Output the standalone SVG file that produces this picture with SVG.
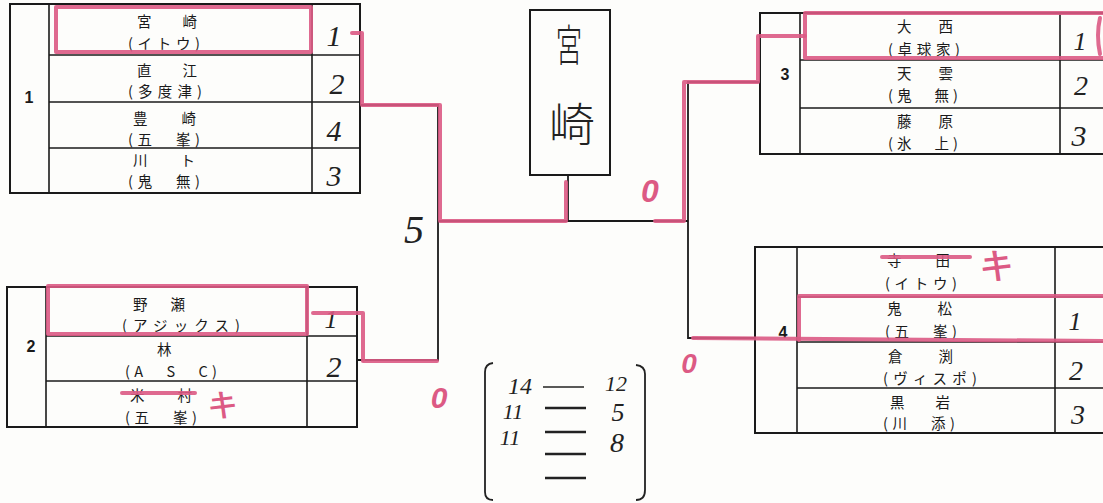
<svg xmlns="http://www.w3.org/2000/svg" width="1103" height="503" viewBox="0 0 1103 503">
<style>
.box{fill:none;stroke:#1a1a1a;stroke-width:2}
.ln{stroke:#1a1a1a;stroke-width:1.6;fill:none}
.t{font-family:"Noto Sans CJK JP","Liberation Sans",sans-serif;font-size:14.5px;fill:#1a1a1a}
.lb{font-family:"Liberation Sans",sans-serif;font-size:16px;font-weight:bold;fill:#1a1a1a}
.hw{font-family:"Liberation Serif",serif;font-style:italic;fill:#222}
.red{fill:none;stroke:#dc5a84;stroke-width:4;stroke-linecap:round;stroke-linejoin:round;opacity:0.9}
.redt{font-family:"Liberation Sans",sans-serif;font-weight:bold;fill:#dc5a84}
.con{fill:none;stroke:#1a1a1a;stroke-width:1.8}
</style>
<rect width="1103" height="503" fill="#fdfdfb"/>

<g id="connectors">
<polyline class="con" points="360,105 438,105 438,360 357,360"/>
<line class="con" x1="438" y1="221" x2="688" y2="221"/>
<line class="con" x1="568" y1="175" x2="568" y2="221"/>
<polyline class="con" points="760,82 688,82 688,338 755,338"/>
</g>

<g id="block1">
<rect class="box" x="10" y="4" width="350" height="189"/>
<line class="ln" x1="49" y1="4" x2="49" y2="193"/>
<line class="ln" x1="312" y1="4" x2="312" y2="193"/>
<line class="ln" x1="49" y1="55" x2="360" y2="55"/>
<line class="ln" x1="49" y1="102" x2="360" y2="102"/>
<line class="ln" x1="49" y1="148" x2="360" y2="148"/>
<text class="lb" x="29" y="103" text-anchor="middle">1</text>
<text class="t" x="137" y="27" textLength="60" lengthAdjust="spacing">宮　崎</text>
<text class="t" x="128" y="49" textLength="72" lengthAdjust="spacing">(イトウ)</text>
<text class="t" x="137" y="76" textLength="60" lengthAdjust="spacing">直　江</text>
<text class="t" x="128" y="97" textLength="74" lengthAdjust="spacing">(多度津)</text>
<text class="t" x="133" y="124" textLength="63" lengthAdjust="spacing">豊　崎</text>
<text class="t" x="128" y="145" textLength="72" lengthAdjust="spacing">(五　峯)</text>
<text class="t" x="133" y="166" textLength="62" lengthAdjust="spacing">川　ト</text>
<text class="t" x="128" y="187" textLength="72" lengthAdjust="spacing">(鬼　無)</text>
<text class="hw" x="334" y="46" font-size="30" text-anchor="middle">1</text>
<text class="hw" x="337" y="94" font-size="30" text-anchor="middle">2</text>
<text class="hw" x="334" y="141" font-size="30" text-anchor="middle">4</text>
<text class="hw" x="334" y="186" font-size="30" text-anchor="middle">3</text>
</g>

<g id="block2">
<rect class="box" x="7" y="287" width="350" height="140"/>
<line class="ln" x1="46" y1="287" x2="46" y2="427"/>
<line class="ln" x1="307" y1="287" x2="307" y2="427"/>
<line class="ln" x1="46" y1="336" x2="357" y2="336"/>
<line class="ln" x1="46" y1="381" x2="357" y2="381"/>
<text class="lb" x="31" y="352" text-anchor="middle">2</text>
<text class="t" x="133" y="310" textLength="52" lengthAdjust="spacing">野　瀬</text>
<text class="t" x="122" y="331" textLength="118" lengthAdjust="spacing">(アジックス)</text>
<text class="t" x="157" y="355">林</text>
<text class="t" x="125" y="377" textLength="92" lengthAdjust="spacing">(A　S　C)</text>
<text class="t" x="130" y="401" textLength="62" lengthAdjust="spacing">米　村</text>
<text class="t" x="125" y="423" textLength="72" lengthAdjust="spacing">(五　峯)</text>
<text class="hw" x="331" y="328" font-size="26" text-anchor="middle">1</text>
<text class="hw" x="334" y="377" font-size="30" text-anchor="middle">2</text>
</g>

<g id="final">
<rect class="box" x="530" y="10" width="80" height="165"/>
<text x="569" y="62" font-family="Noto Sans CJK JP,sans-serif" font-weight="300" font-size="44" fill="#222" text-anchor="middle" transform="translate(569 0) scale(0.6 1) translate(-569 0)">宮</text>
<text x="572" y="141" font-family="Noto Sans CJK JP,sans-serif" font-weight="300" font-size="46" fill="#222" text-anchor="middle">崎</text>
</g>

<g id="block3">
<rect class="box" x="760" y="13" width="350" height="141"/>
<line class="ln" x1="800" y1="13" x2="800" y2="154"/>
<line class="ln" x1="1060" y1="13" x2="1060" y2="154"/>
<line class="ln" x1="800" y1="60" x2="1103" y2="60"/>
<line class="ln" x1="800" y1="108" x2="1103" y2="108"/>
<text class="lb" x="785" y="80" text-anchor="middle">3</text>
<text class="t" x="897" y="32" textLength="56" lengthAdjust="spacing">大　西</text>
<text class="t" x="888" y="55" textLength="72" lengthAdjust="spacing">(卓球家)</text>
<text class="t" x="897" y="79" textLength="56" lengthAdjust="spacing">天　雲</text>
<text class="t" x="888" y="101" textLength="70" lengthAdjust="spacing">(鬼　無)</text>
<text class="t" x="897" y="127" textLength="56" lengthAdjust="spacing">藤　原</text>
<text class="t" x="888" y="149" textLength="70" lengthAdjust="spacing">(氷　上)</text>
<text class="hw" x="1080" y="50" font-size="26" text-anchor="middle">1</text>
<text class="hw" x="1081" y="95" font-size="28" text-anchor="middle">2</text>
<text class="hw" x="1079" y="146" font-size="30" text-anchor="middle">3</text>
</g>

<g id="block4">
<rect class="box" x="755" y="247" width="355" height="186"/>
<line class="ln" x1="797" y1="247" x2="797" y2="433"/>
<line class="ln" x1="1055" y1="247" x2="1055" y2="433"/>
<line class="ln" x1="797" y1="297" x2="1103" y2="297"/>
<line class="ln" x1="797" y1="342" x2="1103" y2="342"/>
<line class="ln" x1="797" y1="388" x2="1103" y2="388"/>
<text class="lb" x="783" y="338" text-anchor="middle">4</text>
<text class="t" x="887" y="266" textLength="63" lengthAdjust="spacing">寺　田</text>
<text class="t" x="885" y="289" textLength="72" lengthAdjust="spacing">(イトウ)</text>
<text class="t" x="887" y="314" textLength="65" lengthAdjust="spacing">鬼　松</text>
<text class="t" x="885" y="337" textLength="72" lengthAdjust="spacing">(五　峯)</text>
<text class="t" x="888" y="362" textLength="65" lengthAdjust="spacing">倉　渕</text>
<text class="t" x="883" y="384" textLength="94" lengthAdjust="spacing">(ヴィスポ)</text>
<text class="t" x="890" y="408" textLength="60" lengthAdjust="spacing">黒　岩</text>
<text class="t" x="883" y="429" textLength="72" lengthAdjust="spacing">(川　添)</text>
<text class="hw" x="1075" y="330" font-size="26" text-anchor="middle">1</text>
<text class="hw" x="1076" y="380" font-size="28" text-anchor="middle">2</text>
<text class="hw" x="1078" y="424" font-size="28" text-anchor="middle">3</text>
</g>

<g id="annotations">
<rect class="red" x="56" y="7" width="255" height="45"/>
<polyline class="red" points="352,33 362,33 362,105 440,105 440,221 566,221 566,182"/>
<rect class="red" x="48" y="286" width="259" height="48"/>
<polyline class="red" points="313,313 363,313 363,360"/>
<line class="red" x1="363" y1="361" x2="437" y2="361" stroke-width="3" opacity="0.5"/>
<line class="red" x1="122" y1="393" x2="195" y2="393" stroke-width="3"/>
<text class="redt" x="223" y="414" font-size="30" text-anchor="middle">キ</text>
<polyline class="red" points="655,221 684,221 684,82 758,82 758,36 805,36"/>
<polyline class="red" points="1103,13 805,13 805,58 1103,58"/>
<path class="red" d="M1100,18 Q1096,35 1100,54" stroke-width="3"/>
<line class="red" x1="882" y1="257" x2="970" y2="257" stroke-width="3"/>
<text class="redt" x="997" y="276" font-size="34" text-anchor="middle">キ</text>
<line class="red" x1="693" y1="338" x2="1103" y2="341"/>
<polyline class="red" points="1103,296 799,296 799,340" stroke-width="3.5"/>
<text class="redt" x="650" y="202" font-size="32" font-style="italic" text-anchor="middle">0</text>
<text class="redt" x="689" y="373" font-size="28" font-style="italic" text-anchor="middle">0</text>
<text class="redt" x="439" y="408" font-size="30" font-style="italic" text-anchor="middle">0</text>
<text class="hw" x="414" y="243" font-size="40" text-anchor="middle">5</text>
</g>

<g id="tally">
<path d="M493,363 Q485,364 485,372 L485,492 Q485,500 493,500" fill="none" stroke="#222" stroke-width="1.8"/>
<path d="M636,365 Q645,366 645,374 L645,490 Q645,500 636,500" fill="none" stroke="#222" stroke-width="1.8"/>
<line x1="543" y1="387" x2="584" y2="387" stroke="#222" stroke-width="1.6"/>
<line x1="545" y1="408" x2="586" y2="408" stroke="#222" stroke-width="2.6"/>
<line x1="545" y1="432" x2="586" y2="432" stroke="#222" stroke-width="2.6"/>
<line x1="545" y1="454" x2="586" y2="454" stroke="#222" stroke-width="2.4"/>
<line x1="545" y1="478" x2="586" y2="478" stroke="#222" stroke-width="2.6"/>
<text class="hw" x="520" y="394" font-size="24" text-anchor="middle">14</text>
<text class="hw" x="616" y="391" font-size="22" text-anchor="middle">12</text>
<text class="hw" x="513" y="419" font-size="22" text-anchor="middle">11</text>
<text class="hw" x="618" y="421" font-size="26" text-anchor="middle">5</text>
<text class="hw" x="510" y="445" font-size="22" text-anchor="middle">11</text>
<text class="hw" x="617" y="452" font-size="28" text-anchor="middle">8</text>
</g>
</svg>
